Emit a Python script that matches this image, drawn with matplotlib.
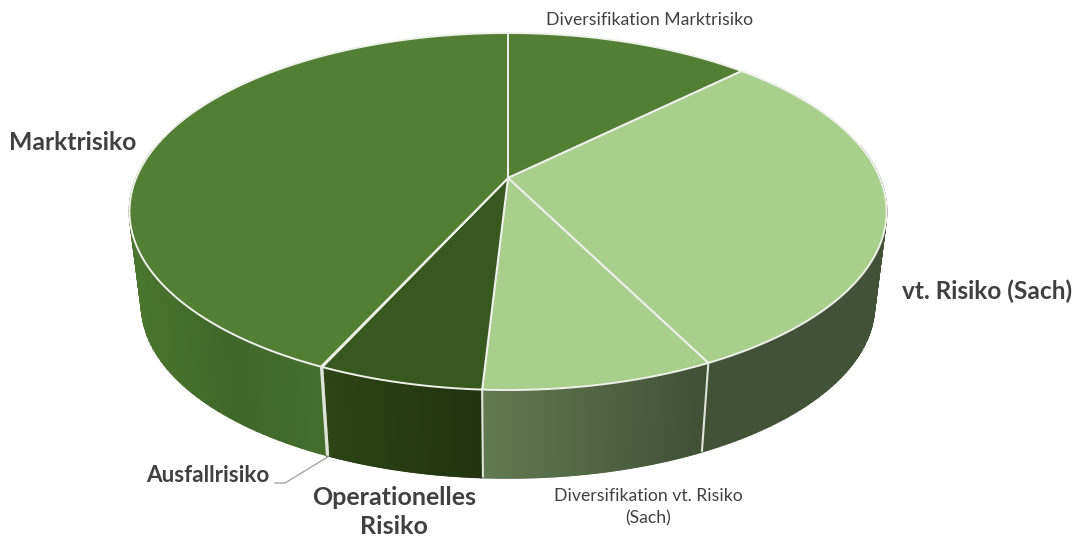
import numpy as np
import matplotlib
matplotlib.use('Agg')
import matplotlib.pyplot as plt
from matplotlib.collections import PolyCollection
from matplotlib.colors import to_rgb

plt.rcParams['font.family'] = ['Lato', 'DejaVu Sans']

# shares, clockwise from 12 o'clock
categories = ['Diversifikation Marktrisiko', 'vt. Risiko (Sach)', 'Diversifikation vt. Risiko (Sach)',
              'Operationelles Risiko', 'Ausfallrisiko', 'Marktrisiko']
values = [12.6, 30.0, 8.3, 5.9, 0.05, 43.15]
top_colors = ['#527f33', '#a8cf8c', '#a8cf8c', '#37581f', '#527f33', '#527f33']
# wall colours, left to right across each slice
wall_colors = [['#527f33'], ['#425236'], ['#627a52', '#3f5035'], ['#2c4416', '#203410'],
               ['#446f2f'], ['#4a752e', '#3f6729', '#446f2f']]

# perspective of the disc, in pixels
CX, CY = 508, 178
A, B, K = 371.8, 172.2, 0.1877
SHRINK, VANISH_Y = 0.968, 3139


def top_xy(theta):
    u, v = np.sin(theta), -np.cos(theta)
    d = 1 - K * v
    return CX + A * u / d, CY + B * v / d


def bottom_xy(x, y):
    return CX + (x - CX) * SHRINK, VANISH_Y + (y - VANISH_Y) * SHRINK


def mix(stops, t):
    rgb = np.array([to_rgb(c) for c in stops])
    pos = np.linspace(0, 1, len(stops))
    return tuple(np.interp(t, pos, rgb[:, i]) for i in range(3))


edges = np.radians(np.cumsum([0] + values) * 3.6)

fig = plt.figure(figsize=(10.79, 5.39), dpi=100)
ax = fig.add_axes([0, 0, 1, 1])
ax.set_xlim(0, 1079)
ax.set_ylim(539, 0)
ax.axis('off')

# walls
for i in range(len(values)):
    th = np.linspace(edges[i], edges[i + 1], 120)
    x, y = top_xy(th)
    xb, yb = bottom_xy(x, y)
    # only the part in front shows
    front = (th > np.pi / 2 - 0.2) & (th < 3 * np.pi / 2 + 0.2)
    if front.sum() < 2:
        continue
    x, y, xb, yb = x[front], y[front], xb[front], yb[front]
    span = x.max() - x.min()
    quads, cols = [], []
    for j in range(len(x) - 1):
        quads.append([(x[j], y[j]), (x[j + 1], y[j + 1]), (xb[j + 1], yb[j + 1]), (xb[j], yb[j])])
        cols.append(mix(wall_colors[i], (min(x[j], x[j + 1]) - x.min()) / span))
    # thick edges so the strips overlap and no moire shows
    ax.add_collection(PolyCollection(quads, facecolors=cols, edgecolors=cols, linewidths=1.2))

# white seams on the walls
for e in edges[1:-1]:
    if np.pi / 2 < e < 3 * np.pi / 2:
        x, y = top_xy(e)
        xb, yb = bottom_xy(x, y)
        ax.plot([x, xb], [y, yb], color='#dfe5da', lw=1.5, solid_capstyle='butt')

# top of the disc
for i in range(len(values)):
    th = np.linspace(edges[i], edges[i + 1], 200)
    x, y = top_xy(th)
    ax.fill(np.r_[CX, x], np.r_[CY, y], facecolor=top_colors[i], edgecolor='#eef1ea', lw=1.4, joinstyle='round')

# leader line for Ausfallrisiko
x0, y0 = bottom_xy(*top_xy(edges[4]))
ax.plot([x0, 285, 275], [y0 + 1, 483, 483], color='#a6a6a6', lw=1)

txt = '#404040'
ax.text(73, 143, 'Marktrisiko', fontsize=17.8, fontweight='bold', color=txt, ha='center', va='center')
ax.text(987, 291, 'vt. Risiko (Sach)', fontsize=17.6, fontweight='bold', color=txt, ha='center', va='center')
ax.text(208, 476, 'Ausfallrisiko', fontsize=16.2, fontweight='bold', color=txt, ha='center', va='center')
ax.text(394, 512, 'Operationelles\nRisiko', fontsize=18, fontweight='bold', color=txt, ha='center', va='center',
        linespacing=1.35)
ax.text(650, 20, 'Diversifikation Marktrisiko', fontsize=12.7, color=txt, ha='center', va='center')
ax.text(648, 507, 'Diversifikation vt. Risiko\n(Sach)', fontsize=12.7, color=txt, ha='center', va='center',
        linespacing=1.45)

fig.savefig('out.png', dpi=100)
